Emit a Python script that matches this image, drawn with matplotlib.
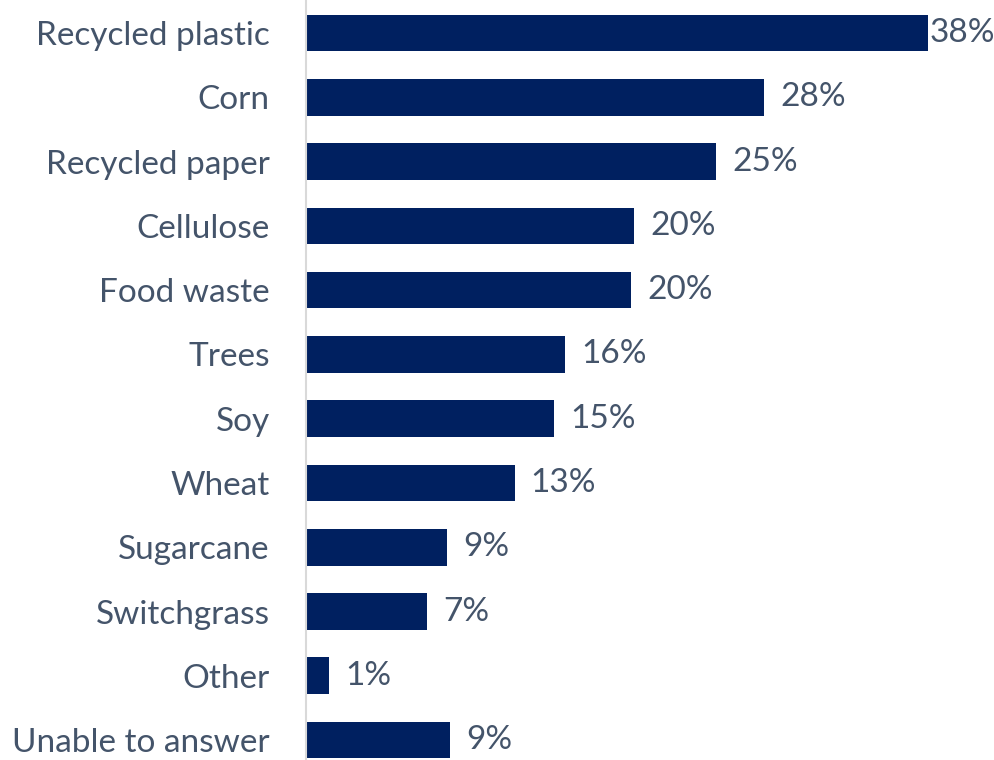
import matplotlib
matplotlib.use("Agg")
import matplotlib.pyplot as plt

# Survey shares (%) per source material
categories = ["Recycled plastic", "Corn", "Recycled paper", "Cellulose", "Food waste",
              "Trees", "Soy", "Wheat", "Sugarcane", "Switchgrass", "Other",
              "Unable to answer"]
shares = [37.9, 27.9, 25.0, 20.0, 19.8, 15.8, 15.1, 12.7, 8.6, 7.4, 1.4, 8.8]

BAR_COLOR = "#002060"
TEXT_COLOR = "#44546A"

plt.rcParams["font.family"] = ["Lato", "DejaVu Sans"]

fig = plt.figure(figsize=(9.95, 7.6), dpi=100)
ax = fig.add_axes([0.3075, 0.0, 0.6925, 1.0])

pos = list(range(len(categories)))
ax.barh(pos, shares, height=0.57, color=BAR_COLOR)

labels = []
for y, v in zip(pos, shares):
    t = ax.annotate(f"{v:.0f}%", xy=(v, y), xytext=(11.5, 0),
                    textcoords="offset points", va="center", ha="left",
                    fontsize=24, color=TEXT_COLOR)
    labels.append(t)

ax.set_yticks(pos)
ax.set_yticklabels(categories, fontsize=24, color=TEXT_COLOR)
ax.tick_params(axis="y", length=0, pad=26)
ax.set_xticks([])

ax.set_xlim(0, 41.96)
ax.set_ylim(11.31, -0.513)

for side in ["top", "right", "bottom"]:
    ax.spines[side].set_visible(False)
ax.spines["left"].set_color("#D9D9D9")
ax.spines["left"].set_linewidth(1.5)

# pull labels back inside the figure if they run off the right edge
fig.canvas.draw()
renderer = fig.canvas.get_renderer()
fig_w = fig.bbox.width
for t in labels:
    bb = t.get_window_extent(renderer)
    if bb.x1 > fig_w:
        dx = (bb.x1 - fig_w) * 72 / fig.dpi
        x0, y0 = t.xyann
        t.xyann = (x0 - dx, y0)

fig.savefig("out.png", dpi=100)
